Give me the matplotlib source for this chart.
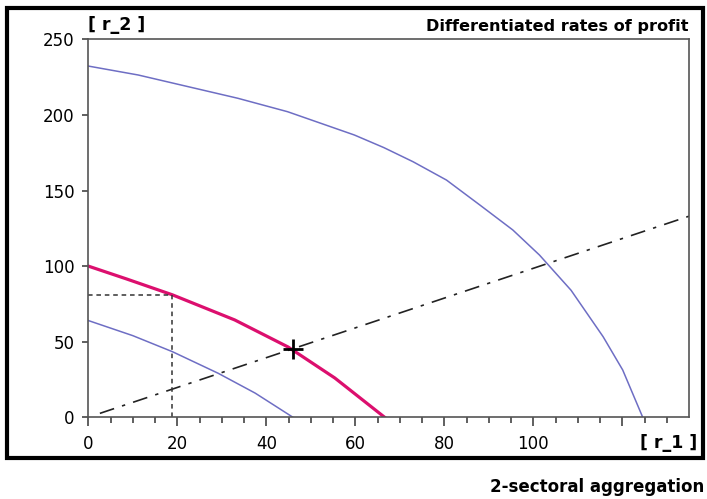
import matplotlib
matplotlib.use("Agg")
import matplotlib.pyplot as plt
from matplotlib.patches import Rectangle

plt.rcParams['font.family'] = ['DejaVu Sans']

# wage-profit frontiers (r_1, r_2)
outer_r1 = [0, 11.2, 22.4, 33.6, 44.8, 52.3, 59.8, 66.4, 73, 80.5, 88, 95.4, 101.4, 108.5, 115.7, 120.1, 124.6]
outer_r2 = [232.3, 226.4, 218.7, 211, 202.1, 194.4, 186.7, 178.4, 169, 156.9, 140.4, 123.9, 107.3, 84, 53.3, 31.3, 0]

mid_r1 = [0, 8.6, 18.9, 32.9, 44.9, 55.4, 66.6]
mid_r2 = [100, 91.5, 81, 64.4, 46.5, 26, 0]

inner_r1 = [0, 10, 18.9, 29.2, 37.5, 46]
inner_r2 = [64, 54, 43.4, 29.1, 16, 0]

# ray through the origin
ray_r1 = [2.6, 135]
ray_r2 = [2.6, 133]

# reference point on the middle curve
ref_r1 = 18.9
ref_r2 = 81
cross_r1 = 46
cross_r2 = 45.5

fig = plt.figure(figsize=(7.07, 4.99), dpi=100)
ax = fig.add_axes([88.3 / 707, 1 - 417.3 / 499, (689 - 88.3) / 707, (417.3 - 39.3) / 499])

blue = '#6e6ec4'
pink = '#dc0f6e'
ax.plot(outer_r1, outer_r2, color=blue, lw=1.1)
ax.plot(inner_r1, inner_r2, color=blue, lw=1.1)
ax.plot(mid_r1, mid_r2, color=pink, lw=2.3)
ax.plot(ray_r1, ray_r2, color='#222222', lw=1.2, dashes=(9, 5, 2, 5))
ax.plot([0, ref_r1], [ref_r2, ref_r2], color='#333333', lw=1.1, dashes=(3, 2.5))
ax.plot([ref_r1, ref_r1], [0, ref_r2], color='#333333', lw=1.1, dashes=(3, 2.5))
ax.plot([cross_r1], [cross_r2], marker='+', ms=15, mew=2, color='black')

ax.set_xlim(0, 135)
ax.set_ylim(0, 250)
ax.set_xticks([0, 20, 40, 60, 80, 100, 120])
ax.set_xticklabels(['0', '20', '40', '60', '80', '100', ''])
ax.set_xticks(range(0, 135, 5), minor=True)
ax.set_yticks([0, 50, 100, 150, 200, 250])
ax.tick_params(axis='x', which='major', length=6.5, width=1.2, color='#444444', labelsize=12, pad=6)
ax.tick_params(axis='x', which='minor', length=4.5, width=1.2, color='#444444')
ax.tick_params(axis='y', which='major', length=4, width=1.2, color='#444444', labelsize=12, pad=6)
for s in ax.spines.values():
    s.set_color('#555555')
    s.set_linewidth(1.2)

fig.text(88 / 707, 1 - 25 / 499, '[ r_2 ]', fontsize=12.5, fontweight='bold', ha='left', va='center')
fig.text(689 / 707, 1 - 26 / 499, 'Differentiated rates of profit', fontsize=11.6,
         fontweight='bold', ha='right', va='center')
fig.text(697 / 707, 1 - 443 / 499, '[ r_1 ]', fontsize=12.5, fontweight='bold', ha='right', va='center')
fig.text(704 / 707, 1 - 487 / 499, '2-sectoral aggregation', fontsize=12,
         fontweight='bold', ha='right', va='center')

# outer frame
fig.patches.append(Rectangle((6.5 / 707, 1 - 458 / 499), (703 - 6.5) / 707, (458 - 7.5) / 499,
                             transform=fig.transFigure, fill=False, lw=3, ec='black'))

fig.savefig('out.png', dpi=100)
